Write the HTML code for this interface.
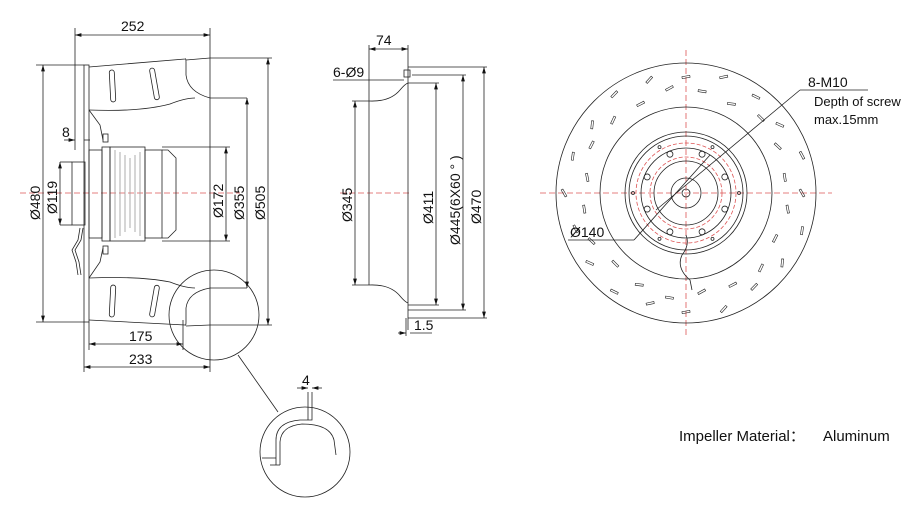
<!DOCTYPE html>
<html><head><meta charset="utf-8"><style>
body{margin:0;background:#fff}
svg{display:block}
text{font-family:"Liberation Sans",sans-serif;fill:#111}
</style></head><body>
<svg id="s" width="922" height="510" viewBox="0 0 922 510" xmlns="http://www.w3.org/2000/svg">
<defs><marker id="a" viewBox="0 0 10 6" refX="10" refY="3" markerWidth="8" markerHeight="5" orient="auto-start-reverse"><path d="M0,0L10,3L0,6z" fill="#111"/></marker></defs>
<g stroke="#222" stroke-width="0.8" fill="none">
<!-- LEFT VIEW -->
<line x1="20" y1="193" x2="240" y2="193" stroke="#d55" stroke-dasharray="6,3"/>
<line x1="75" y1="35" x2="210" y2="35" marker-start="url(#a)" marker-end="url(#a)"/>
<line x1="75" y1="28" x2="75" y2="150"/>
<line x1="210" y1="28" x2="210" y2="372"/>
<rect x="84" y="65" width="5" height="257"/>
<line x1="36" y1="65" x2="84" y2="65"/><line x1="36" y1="322" x2="84" y2="322"/>
<line x1="43" y1="65" x2="43" y2="322" marker-start="url(#a)" marker-end="url(#a)"/>
<path d="M89,67 L185,59 Q186,58 186,62 L186,75 Q188,92 210,98 L247,98"/>
<path d="M186,60 L210,58 L272,58"/>
<path d="M89,110 Q140,112 170,104 Q185,98 195,98"/>
<path d="M89,110 L100,125 L103,140"/>
<rect x="110" y="70" width="5" height="32" rx="2.5" transform="rotate(-3 112 86)"/>
<rect x="152" y="68" width="5" height="32" rx="2.5" transform="rotate(-10 154 84)"/>
<path d="M89,320 L185,325 Q186,326 186,322 L186,308 Q188,292 210,288 L247,288"/>
<path d="M186,326 L210,325 L272,325"/>
<path d="M89,278 Q140,276 170,282 Q185,288 195,288"/>
<path d="M89,278 L100,262 L103,248"/>
<rect x="110" y="285" width="5" height="32" rx="2.5" transform="rotate(3 112 301)"/>
<rect x="152" y="285" width="5" height="32" rx="2.5" transform="rotate(10 154 301)"/>
<rect x="72" y="162" width="13" height="63"/>
<rect x="89" y="150" width="13" height="88"/>
<rect x="102" y="147" width="8" height="94"/>
<rect x="110" y="147" width="35" height="94"/>
<rect x="145" y="150" width="17" height="88"/>
<path d="M162,150 L168,150 L176,158 L176,230 L168,238 L162,238"/>
<line x1="162" y1="147" x2="230" y2="147"/><line x1="162" y1="241" x2="230" y2="241"/>
<g stroke="#999"><line x1="115" y1="150" x2="115" y2="238"/><line x1="120" y1="152" x2="120" y2="236"/><line x1="125" y1="155" x2="125" y2="232"/><line x1="130" y1="158" x2="130" y2="228"/><line x1="135" y1="155" x2="135" y2="232"/><line x1="140" y1="152" x2="140" y2="236"/></g>
<rect x="103" y="134" width="5" height="8"/><rect x="103" y="246" width="5" height="8"/>
<path d="M80,228 L78,240 L72,250 L76,262 L78,275"/><path d="M83,228 L81,240 L75,250 L79,262 L81,275"/>
<line x1="60" y1="162" x2="72" y2="162"/><line x1="60" y1="225" x2="72" y2="225"/>
<line x1="60" y1="162" x2="60" y2="225" marker-start="url(#a)" marker-end="url(#a)"/>
<line x1="64" y1="140" x2="75" y2="140" marker-end="url(#a)"/><line x1="84" y1="140" x2="90" y2="140"/>
<line x1="226" y1="147" x2="226" y2="241" marker-start="url(#a)" marker-end="url(#a)"/>
<line x1="247" y1="98" x2="247" y2="288" marker-start="url(#a)" marker-end="url(#a)"/>
<line x1="268" y1="58" x2="268" y2="325" marker-start="url(#a)" marker-end="url(#a)"/>
<line x1="89" y1="322" x2="89" y2="350"/><line x1="84" y1="322" x2="84" y2="372"/><line x1="183" y1="320" x2="183" y2="350"/>
<line x1="89" y1="344" x2="183" y2="344" marker-start="url(#a)" marker-end="url(#a)"/>
<line x1="84" y1="367" x2="210" y2="367" marker-start="url(#a)" marker-end="url(#a)"/>
<circle cx="214" cy="315" r="45"/>
<line x1="238" y1="355" x2="278" y2="412"/>
<circle cx="305" cy="452" r="45"/>
<path d="M276,465 L276,440 Q276,422 300,420 L312,420 L312,392"/>
<path d="M280,465 L280,442 Q281,426 302,424 Q330,424 334,440 L336,455"/>
<line x1="308" y1="392" x2="308" y2="420"/>
<line x1="270" y1="465" x2="280" y2="465"/><line x1="262" y1="458" x2="276" y2="458"/>
<line x1="297" y1="388" x2="308" y2="388" marker-end="url(#a)"/><line x1="312" y1="388" x2="322" y2="388" marker-start="url(#a)"/>
<!-- MIDDLE VIEW -->
<line x1="340" y1="193" x2="410" y2="193" stroke="#d55" stroke-dasharray="6,3"/>
<line x1="369" y1="49" x2="408" y2="49" marker-start="url(#a)" marker-end="url(#a)"/>
<line x1="369" y1="45" x2="369" y2="285"/>
<line x1="408" y1="45" x2="408" y2="330"/>
<rect x="404" y="70" width="6" height="7"/>
<line x1="333" y1="80" x2="404" y2="80"/>
<path d="M369,101 Q390,102 400,90 Q405,84 408,83"/>
<path d="M369,285 Q390,284 400,296 Q405,302 408,303"/>
<line x1="352" y1="101" x2="369" y2="101"/><line x1="352" y1="285" x2="369" y2="285"/>
<line x1="355" y1="101" x2="355" y2="285" marker-start="url(#a)" marker-end="url(#a)"/>
<line x1="408" y1="83" x2="439" y2="83"/><line x1="408" y1="305" x2="439" y2="305"/>
<line x1="436" y1="83" x2="436" y2="305" marker-start="url(#a)" marker-end="url(#a)"/>
<line x1="412" y1="75" x2="466" y2="75"/><line x1="408" y1="310" x2="466" y2="310"/>
<line x1="463" y1="75" x2="463" y2="310" marker-start="url(#a)" marker-end="url(#a)"/>
<line x1="408" y1="67" x2="487" y2="67"/><line x1="408" y1="318" x2="487" y2="318"/>
<line x1="484" y1="67" x2="484" y2="318" marker-start="url(#a)" marker-end="url(#a)"/>
<line x1="398" y1="333" x2="406" y2="333" marker-end="url(#a)"/><line x1="410" y1="333" x2="432" y2="333"/>
<line x1="406" y1="318" x2="406" y2="336"/>
<!-- RIGHT VIEW -->
<g id="rv">
<line x1="540" y1="193" x2="832" y2="193" stroke="#d55" stroke-dasharray="6,3"/>
<line x1="686" y1="50" x2="686" y2="336" stroke="#d55" stroke-dasharray="6,3"/>
<circle cx="686" cy="193" r="130"/>
<circle cx="686" cy="193" r="86"/>
<circle cx="686" cy="193" r="61"/>
<circle cx="686" cy="193" r="57"/>
<circle cx="686" cy="193" r="50" stroke="#d55" stroke-dasharray="4,2"/>
<circle cx="686" cy="193" r="45"/>
<circle cx="686" cy="193" r="36" stroke="#d55" stroke-dasharray="4,2"/>
<circle cx="686" cy="193" r="32"/>
<circle cx="686" cy="193" r="15"/>
<circle cx="686" cy="193" r="4"/>
<path d="M686,235 Q690,245 682,255 Q676,268 690,280 L692,290"/>
<line x1="800" y1="90" x2="868" y2="90"/>
<line x1="800" y1="90" x2="656" y2="210"/>
<line x1="634" y1="240" x2="568" y2="240"/>
<line x1="634" y1="240" x2="710" y2="155"/>
</g>
</g>
<g font-size="14">
<text x="121" y="31">252</text>
<text x="62" y="137">8</text>
<text transform="translate(40 220) rotate(-90)">Ø480</text>
<text transform="translate(57 214) rotate(-90)">Ø119</text>
<text transform="translate(223 218) rotate(-90)">Ø172</text>
<text transform="translate(244 220) rotate(-90)">Ø355</text>
<text transform="translate(265 220) rotate(-90)">Ø505</text>
<text x="129" y="341">175</text>
<text x="129" y="364">233</text>
<text x="302" y="385">4</text>
<text x="376" y="45">74</text>
<text x="333" y="77">6-Ø9</text>
<text transform="translate(352 222) rotate(-90)">Ø345</text>
<text transform="translate(433 224) rotate(-90)">Ø411</text>
<text transform="translate(460 245) rotate(-90)">Ø445(6X60 ° )</text>
<text transform="translate(481 224) rotate(-90)">Ø470</text>
<text x="414" y="330">1.5</text>
<text x="808" y="87">8-M10</text>
<text x="814" y="106" font-size="13">Depth of screw</text>
<text x="814" y="124" font-size="13">max.15mm</text>
<text x="570" y="237">Ø140</text>
<text x="679" y="441" font-size="15">Impeller Material：</text>
<text x="823" y="441" font-size="15">Aluminum</text>
</g>
</svg>
<script>
var g=document.getElementById('rv'),ns='http://www.w3.org/2000/svg';
for(var i=0;i<40;i++){var r=(i%2?100:116)+(i%3)*3,t=i*9*Math.PI/180,x=686+r*Math.cos(t),y=193+r*Math.sin(t);
var e=document.createElementNS(ns,'rect');e.setAttribute('x',x-4);e.setAttribute('y',y-1);e.setAttribute('width',8);e.setAttribute('height',2);
e.setAttribute('stroke-width','0.6');
e.setAttribute('transform','rotate('+(i*9+60+(i%4)*10)+' '+x+' '+y+')');g.appendChild(e);}
for(var j=0;j<8;j++){var t2=(j*45+22.5)*Math.PI/180,c=document.createElementNS(ns,'circle');c.setAttribute('cx',686+42*Math.cos(t2));c.setAttribute('cy',193+42*Math.sin(t2));c.setAttribute('r',3);g.appendChild(c);}
for(var k=0;k<6;k++){var t3=(k*60)*Math.PI/180,d=document.createElementNS(ns,'circle');d.setAttribute('cx',686+53*Math.cos(t3));d.setAttribute('cy',193+53*Math.sin(t3));d.setAttribute('r',1.5);g.appendChild(d);}
</script>
</body></html>
